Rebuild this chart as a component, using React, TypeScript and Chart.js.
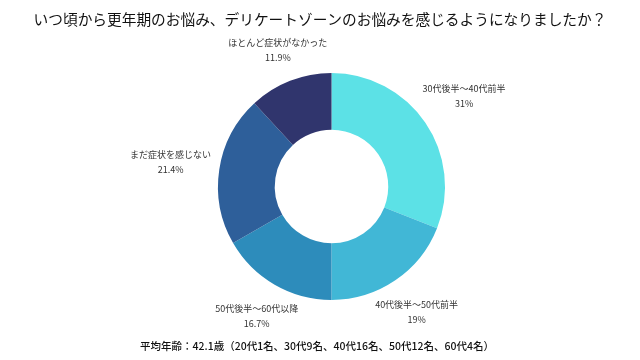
import React, { useEffect, useRef } from "react";
import { Chart, registerables } from "chart.js";

Chart.register(...registerables);

const title = "いつ頃から更年期のお悩み、デリケートゾーンのお悩みを感じるようになりましたか？";
const footnote = "平均年齢：42.1歳（20代1名、30代9名、40代16名、50代12名、60代4名）";
const categories = [
  "30代後半～40代前半",
  "40代後半～50代前半",
  "50代後半～60代以降",
  "まだ症状を感じない",
  "ほとんど症状がなかった",
];
const values = [31, 19, 16.7, 21.4, 11.9];
const valueLabels = ["31%", "19%", "16.7%", "21.4%", "11.9%"];
const colors = ["#5ce1e6", "#41b7d6", "#2d8cbb", "#2e5f9a", "#30356d"];

const FONT = "'Noto Sans CJK JP', 'Noto Sans', sans-serif";

const textPlugin = {
  id: "textPlugin",
  afterDraw(chart: any) {
    const ctx = chart.ctx as CanvasRenderingContext2D;
    const w = chart.width;
    ctx.save();
    ctx.fillStyle = "#111";
    ctx.textAlign = "center";
    ctx.textBaseline = "middle";
    ctx.font = `14.7px ${FONT}`;
    ctx.fillText(title, w / 2, 19);
    ctx.font = `500 10.5px ${FONT}`;
    ctx.fillText(footnote, w / 2 - 3, 346);

    const meta = chart.getDatasetMeta(0);
    ctx.font = `9px ${FONT}`;
    ctx.fillStyle = "#333";
    const lineH = 15;
    meta.data.forEach((arc: any, i: number) => {
      const { x, y, startAngle, endAngle, outerRadius } = arc.getProps(
        ["x", "y", "startAngle", "endAngle", "outerRadius"],
        true
      );
      const mid = (startAngle + endAngle) / 2;
      const dx = Math.cos(mid);
      const dy = Math.sin(mid);
      const tw = Math.max(ctx.measureText(categories[i]).width, ctx.measureText(valueLabels[i]).width);
      const ext = (Math.abs(dx) * tw) / 2 + Math.abs(dy) * 8;
      const r = outerRadius + 8 + ext;
      const cx = x + dx * r;
      const cy = y + dy * r;
      ctx.fillText(categories[i], cx, cy - lineH / 2);
      ctx.fillText(valueLabels[i], cx, cy + lineH / 2);
    });
    ctx.restore();
  },
};

export default function App() {
  const ref = useRef<HTMLCanvasElement>(null);
  useEffect(() => {
    const chart = new Chart(ref.current!, {
      type: "doughnut",
      data: {
        labels: categories,
        datasets: [
          {
            data: values,
            backgroundColor: colors,
            borderWidth: 0,
          },
        ],
      },
      options: {
        animation: false,
        responsive: false,
        cutout: "50%",
        layout: { padding: { top: 73, bottom: 60, left: 23, right: 0 } },
        plugins: {
          legend: { display: false },
          tooltip: { enabled: false },
          title: { display: false },
        },
      },
      plugins: [textPlugin],
    });
    return () => chart.destroy();
  }, []);
  return (
    <div style={{ position: "fixed", left: 0, top: 0, width: 640, height: 360, background: "#fff" }}>
      <canvas ref={ref} width={640} height={360} />
    </div>
  );
}
